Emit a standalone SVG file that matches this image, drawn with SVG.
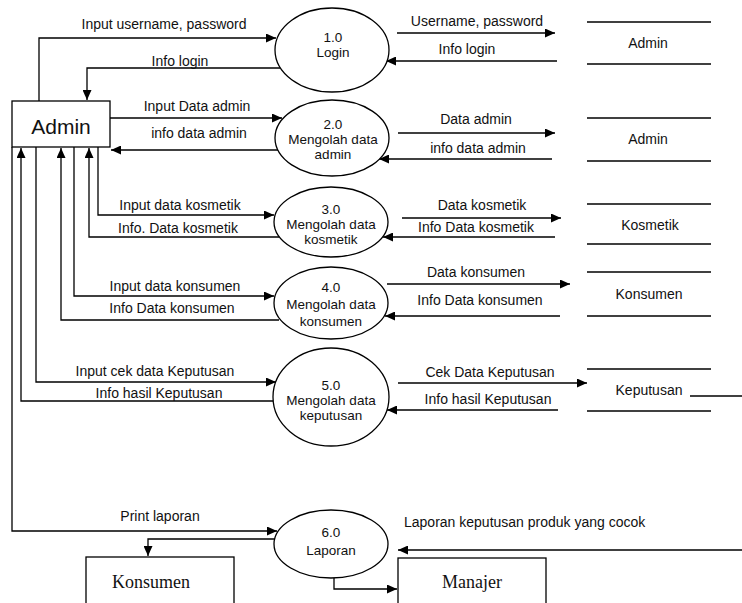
<svg xmlns="http://www.w3.org/2000/svg" width="742" height="603" viewBox="0 0 742 603">
<style>
  .bg{fill:#fff}
  .shape{fill:#fff;stroke:#000;stroke-width:1.3}
  .store{stroke:#000;stroke-width:1.3;fill:none}
  .flow{fill:none;stroke:#000;stroke-width:1.3;marker-end:url(#arr)}
  text{font-family:"Liberation Sans",Arial,sans-serif;font-size:14px;fill:#111}
  .c{text-anchor:middle}
  .p{font-size:13.5px}
  .big{font-size:21px}
  .serif{font-family:"Liberation Serif","Times New Roman",serif;font-size:18px;text-anchor:middle}
</style>
<defs>
  <marker id="arr" markerUnits="userSpaceOnUse" markerWidth="11" markerHeight="9" refX="10" refY="4.5" orient="auto">
    <path d="M0,0 L10,4.5 L0,9 z" fill="#000"/>
  </marker>
</defs>
<rect class="bg" x="0" y="0" width="742" height="603"/>

<g id="connectors">
  <path class="flow" d="M39,101 V38 H276"/>
  <text class="c" x="164" y="29">Input username, password</text>
  <path class="flow" d="M280,68 H87 V100"/>
  <text class="c" x="180" y="66">Info login</text>
  <path class="flow" d="M110,118 H282"/>
  <text class="c" x="197" y="111">Input Data admin</text>
  <path class="flow" d="M278,150 H111"/>
  <text class="c" x="199" y="138">info data admin</text>
  <path class="flow" d="M98,147 V215 H274"/>
  <text class="c" x="180" y="210">Input data kosmetik</text>
  <path class="flow" d="M279,237 H89 V148"/>
  <text class="c" x="178" y="233">Info. Data kosmetik</text>
  <path class="flow" d="M74,147 V296 H274"/>
  <text class="c" x="175" y="291">Input data konsumen</text>
  <path class="flow" d="M279,320 H61 V148"/>
  <text class="c" x="172" y="313">Info Data konsumen</text>
  <path class="flow" d="M36,147 V382 H276"/>
  <text class="c" x="155" y="376">Input cek data Keputusan</text>
  <path class="flow" d="M274,401 H21 V148"/>
  <text class="c" x="159" y="398">Info hasil Keputusan</text>
  <path class="flow" d="M12,147 V531 H277"/>
  <text class="c" x="160" y="521">Print laporan</text>
  <path class="flow" d="M275,539 H148 V556"/>
  <path class="flow" d="M334,578 V589 H397"/>
  <path class="flow" d="M742,550 H398"/>
  <text x="404" y="527">Laporan keputusan produk yang cocok</text>

  <path class="flow" d="M397,33 H555"/>
  <text class="c" x="477" y="26">Username, password</text>
  <path class="flow" d="M557,61 H386"/>
  <text class="c" x="467" y="54">Info login</text>
  <path class="flow" d="M398,133 H555"/>
  <text class="c" x="476" y="124">Data admin</text>
  <path class="flow" d="M552,159 H379"/>
  <text class="c" x="478" y="153">info data admin</text>
  <path class="flow" d="M402,218 H561"/>
  <text class="c" x="482" y="210">Data kosmetik</text>
  <path class="flow" d="M555,237 H383"/>
  <text class="c" x="476" y="232">Info Data kosmetik</text>
  <path class="flow" d="M387,284 H570"/>
  <text class="c" x="476" y="277">Data konsumen</text>
  <path class="flow" d="M560,316 H385"/>
  <text class="c" x="480" y="305">Info Data konsumen</text>
  <path class="flow" d="M398,383 H587"/>
  <text class="c" x="490" y="377">Cek Data Keputusan</text>
  <path class="flow" d="M558,410 H387"/>
  <text class="c" x="488" y="404">Info hasil Keputusan</text>
</g>

<g id="admin">
  <rect class="shape" x="12" y="101" width="98" height="46"/>
  <text class="c big" x="61" y="134">Admin</text>
</g>

<g id="p1">
  <ellipse class="shape" cx="332" cy="50" rx="57" ry="42"/>
  <text class="c p" x="333" y="42">1.0</text>
  <text class="c p" x="333" y="57">Login</text>
</g>
<g id="p2">
  <ellipse class="shape" cx="332" cy="138" rx="57" ry="38"/>
  <text class="c p" x="333" y="129">2.0</text>
  <text class="c p" x="333" y="144">Mengolah data</text>
  <text class="c p" x="333" y="159">admin</text>
</g>
<g id="p3">
  <ellipse class="shape" cx="331" cy="222" rx="57" ry="35"/>
  <text class="c p" x="331" y="214">3.0</text>
  <text class="c p" x="331" y="229">Mengolah data</text>
  <text class="c p" x="331" y="244">kosmetik</text>
</g>
<g id="p4">
  <ellipse class="shape" cx="331" cy="303" rx="57" ry="36"/>
  <text class="c p" x="331" y="292">4.0</text>
  <text class="c p" x="331" y="309">Mengolah data</text>
  <text class="c p" x="331" y="326">konsumen</text>
</g>
<g id="p5">
  <ellipse class="shape" cx="331" cy="397" rx="58" ry="49"/>
  <text class="c p" x="331" y="390">5.0</text>
  <text class="c p" x="331" y="405">Mengolah data</text>
  <text class="c p" x="331" y="420">keputusan</text>
</g>
<g id="p6">
  <ellipse class="shape" cx="331" cy="544" rx="57" ry="34"/>
  <text class="c p" x="331" y="537">6.0</text>
  <text class="c p" x="331" y="555">Laporan</text>
</g>

<g id="ds-admin1">
  <line class="store" x1="587" y1="22" x2="711" y2="22"/>
  <line class="store" x1="587" y1="64" x2="711" y2="64"/>
  <text class="c" x="648" y="48">Admin</text>
</g>
<g id="ds-admin2">
  <line class="store" x1="587" y1="118" x2="711" y2="118"/>
  <line class="store" x1="587" y1="161" x2="711" y2="161"/>
  <text class="c" x="648" y="144">Admin</text>
</g>
<g id="ds-kosmetik">
  <line class="store" x1="587" y1="204" x2="711" y2="204"/>
  <line class="store" x1="587" y1="244" x2="711" y2="244"/>
  <text class="c" x="650" y="230">Kosmetik</text>
</g>
<g id="ds-konsumen">
  <line class="store" x1="587" y1="272" x2="711" y2="272"/>
  <line class="store" x1="587" y1="316" x2="711" y2="316"/>
  <text class="c" x="649" y="299">Konsumen</text>
</g>
<g id="ds-keputusan">
  <line class="store" x1="587" y1="369" x2="711" y2="369"/>
  <line class="store" x1="587" y1="411" x2="711" y2="411"/>
  <line class="store" x1="690" y1="396" x2="742" y2="396"/>
  <text class="c" x="649" y="395">Keputusan</text>
</g>

<g id="konsumen">
  <rect class="shape" x="86" y="557" width="148" height="60"/>
  <text class="serif" x="151" y="588">Konsumen</text>
</g>
<g id="manajer">
  <rect class="shape" x="398" y="558" width="148" height="60"/>
  <text class="serif" x="472" y="588">Manajer</text>
</g>
</svg>
